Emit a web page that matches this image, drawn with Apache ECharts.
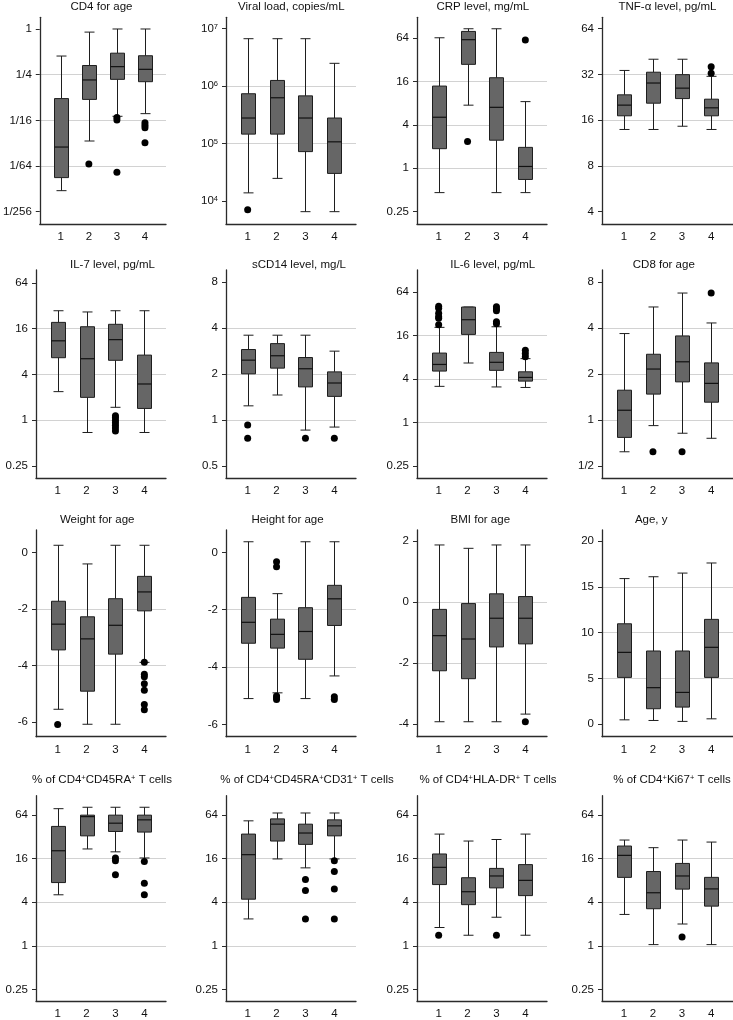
<!DOCTYPE html>
<html>
<head>
<meta charset="utf-8">
<script src="https://cdn.jsdelivr.net/npm/echarts@6/dist/echarts.min.js"></script>
<style>
html,body{margin:0;padding:0;background:#fff;}
#chart{width:733px;height:1020px;}
</style>
</head>
<body>
<div id="chart"></div>
<script>
// ---------- DATA ----------
const categories = ['1', '2', '3', '4'];
// each box: [min whisker, Q1, median, Q3, max whisker]
const cd4Stats = [[0.0074, 0.011, 0.0278, 0.121, 0.44], [0.0334, 0.118, 0.213, 0.33, 0.91], [0.0707, 0.217, 0.319, 0.48, 1.0], [0.0766, 0.202, 0.294, 0.444, 1.0]];
const cd4Outliers = [[2, 0.0166], [3, 0.068], [3, 0.063], [3, 0.0129], [4, 0.058], [4, 0.054], [4, 0.05], [4, 0.0317]];
const viralStats = [[1.4e4, 1.47e5, 2.8e5, 7.4e5, 6.7e6], [2.5e4, 1.47e5, 6.3e5, 1.26e6, 6.7e6], [6.6e3, 7.3e4, 2.8e5, 6.8e5, 6.7e6], [6.6e3, 3.05e4, 1.08e5, 2.8e5, 2.5e6]];
const viralOutliers = [[1, 7.1e3]];
const crpStats = [[0.46, 1.87, 5.1, 13.8, 64.5], [7.5, 27.6, 60.7, 79, 86], [0.46, 2.45, 7.0, 18, 86], [0.46, 0.70, 1.06, 1.95, 8.4]];
const crpOutliers = [[2, 2.36], [4, 60]];
const tnfStats = [[13.9, 17.1, 20.1, 23.5, 34], [13.9, 20.7, 28.1, 33.1, 40.3], [14.6, 22.2, 26.0, 31.9, 40.3], [13.9, 17.1, 19.3, 22.0, 31.1]];
const tnfOutliers = [[4, 36], [4, 32.6]];
const il7Stats = [[2.38, 6.65, 11.1, 19.4, 27.6], [0.69, 2.0, 6.45, 17.0, 26.6], [1.48, 6.15, 11.5, 18.3, 27.6], [0.69, 1.43, 3.0, 7.2, 27.6]];
const il7Outliers = [[3, 1.15], [3, 1.08], [3, 1.0], [3, 0.93], [3, 0.86], [3, 0.79], [3, 0.72]];
const scd14Stats = [[1.24, 2.01, 2.47, 2.9, 3.6], [1.46, 2.19, 2.64, 3.17, 3.6], [0.86, 1.65, 2.17, 2.57, 3.6], [0.90, 1.43, 1.75, 2.07, 2.83]];
const scd14Outliers = [[1, 0.93], [1, 0.76], [3, 0.76], [4, 0.76]];
const il6Stats = [[3.18, 5.18, 6.4, 9.2, 20.9], [6.7, 16.7, 26.7, 40, 40], [3.12, 5.3, 6.85, 9.4, 21.3], [3.07, 3.76, 4.23, 5.06, 7.7]];
const il6Outliers = [[1, 40.9], [1, 38.4], [1, 32.7], [1, 29.4], [1, 27.9], [1, 22.8], [3, 40.5], [3, 37.5], [3, 35.5], [3, 25.1], [3, 23.5], [4, 10.1], [4, 9.1], [4, 8.2]];
const cd8Stats = [[0.62, 0.77, 1.16, 1.57, 3.69], [0.92, 1.48, 2.16, 2.70, 5.51], [0.82, 1.78, 2.41, 3.56, 6.8], [0.76, 1.31, 1.74, 2.37, 4.33]];
const cd8Outliers = [[2, 0.62], [3, 0.62], [4, 6.8]];
const weightStats = [[-5.55, -3.45, -2.54, -1.73, 0.25], [-6.08, -4.91, -3.06, -2.28, -0.41], [-6.08, -3.6, -2.58, -1.64, 0.25], [-3.89, -2.07, -1.40, -0.85, 0.25]];
const weightOutliers = [[1, -6.09], [4, -3.89], [4, -4.31], [4, -4.4], [4, -4.65], [4, -4.88], [4, -5.38], [4, -5.57]];
const heightStats = [[-5.1, -3.17, -2.44, -1.57, 0.37], [-4.9, -3.34, -2.86, -2.33, -1.44], [-5.1, -3.73, -2.76, -1.93, 0.37], [-4.31, -2.55, -1.62, -1.15, 0.37]];
const heightOutliers = [[2, -0.33], [2, -0.5], [2, -5.01], [2, -5.07], [2, -5.13], [4, -5.04], [4, -5.13]];
const bmiStats = [[-3.92, -2.25, -1.1, -0.24, 1.87], [-3.92, -2.51, -1.21, -0.05, 1.76], [-3.92, -1.47, -0.53, 0.27, 1.87], [-3.67, -1.37, -0.53, 0.18, 1.87]];
const bmiOutliers = [[4, -3.92]];
const ageStats = [[0.49, 5.12, 7.85, 10.97, 15.9], [0.42, 1.7, 4.0, 8.0, 16.1], [0.32, 1.88, 3.48, 8.0, 16.5], [0.6, 5.12, 8.4, 11.45, 17.6]];
const ageOutliers = [];
const ra45Stats = [[5.06, 7.46, 20.5, 44.4, 78], [21.7, 32.9, 60.6, 63.5, 81.6], [19.8, 37.8, 49.2, 63.5, 81.6], [16.3, 37.1, 54.7, 63.5, 81.6]];
const ra45Outliers = [[3, 16.3], [3, 14.9], [3, 9.6], [4, 14.6], [4, 7.3], [4, 5.06]];
const cd31Stats = [[2.35, 4.4, 18.1, 34.8, 53], [15.8, 27.9, 47.7, 56.4, 68], [11.9, 25.1, 36, 47.7, 68], [15.8, 32.9, 45.2, 54.7, 68]];
const cd31Outliers = [[3, 8.2], [3, 5.8], [3, 2.35], [4, 14.9], [4, 10.6], [4, 6.06], [4, 2.35]];
const hladrStats = [[1.79, 7.0, 12.1, 18.5, 34.8], [1.40, 3.7, 5.58, 8.7, 27.9], [2.48, 6.3, 9.2, 11.7, 29.3], [1.40, 4.93, 8.0, 13.2, 34.8]];
const hladrOutliers = [[1, 1.40], [3, 1.40]];
const ki67Stats = [[2.71, 8.8, 17.7, 23.8, 28.8], [1.04, 3.25, 5.4, 10.6, 22.6], [2.0, 6.06, 9.2, 13.7, 28.8], [1.04, 3.53, 6.1, 8.8, 27]];
const ki67Outliers = [[3, 1.32]];

// tick values and labels
const fracTicks4 = [1 / 256, 1 / 64, 1 / 16, 1 / 4, 1];
const fracLabels4 = ['1/256', '1/64', '1/16', '1/4', '1'];
const decTicks = [1e4, 1e5, 1e6, 1e7];
const decExponents = ['4', '5', '6', '7'];
const quadTicks = [0.25, 1, 4, 16, 64];
const quadLabels = ['0.25', '1', '4', '16', '64'];
const tnfTicks = [4, 8, 16, 32, 64];
const tnfLabels = ['4', '8', '16', '32', '64'];
const scd14Ticks = [0.5, 1, 2, 4, 8];
const scd14Labels = ['0.5', '1', '2', '4', '8'];
const cd8Ticks = [0.5, 1, 2, 4, 8];
const cd8Labels = ['1/2', '1', '2', '4', '8'];
const zTicks = [-6, -4, -2, 0];
const zLabels = ['-6', '-4', '-2', '0'];
const bmiTicks = [-4, -2, 0, 2];
const bmiLabels = ['-4', '-2', '0', '2'];
const ageTicks = [0, 5, 10, 15, 20];
const ageLabels = ['0', '5', '10', '15', '20'];

// ---------- PANELS ----------
const panels = [
  {title: 'CD4 for age', stats: cd4Stats, out: cd4Outliers, ticks: fracTicks4, labels: fracLabels4, base: 4, lo: -4.269, hi: 0.256},
  {title: 'Viral load, copies/mL', stats: viralStats, out: viralOutliers, ticks: decTicks, labels: decExponents, base: 10, lo: 3.605, hi: 7.198, sup: true},
  {title: 'CRP level, mg/mL', stats: crpStats, out: crpOutliers, ticks: quadTicks, labels: quadLabels, base: 4, lo: -1.283, hi: 3.477},
  {title: 'TNF-α level, pg/mL', stats: tnfStats, out: tnfOutliers, ticks: tnfTicks, labels: tnfLabels, base: 2, lo: 1.731, hi: 6.249},
  {title: 'IL-7 level, pg/mL', stats: il7Stats, out: il7Outliers, ticks: quadTicks, labels: quadLabels, base: 4, lo: -1.269, hi: 3.284},
  {title: 'sCD14 level, mg/L', stats: scd14Stats, out: scd14Outliers, ticks: scd14Ticks, labels: scd14Labels, base: 2, lo: -1.267, hi: 3.267},
  {title: 'IL-6 level, pg/mL', stats: il6Stats, out: il6Outliers, ticks: quadTicks, labels: quadLabels, base: 4, lo: -1.283, hi: 3.514},
  {title: 'CD8 for age', stats: cd8Stats, out: cd8Outliers, ticks: cd8Ticks, labels: cd8Labels, base: 2, lo: -1.267, hi: 3.267},
  {title: 'Weight for age', stats: weightStats, out: weightOutliers, ticks: zTicks, labels: zLabels, lo: -6.52, hi: 0.79},
  {title: 'Height for age', stats: heightStats, out: heightOutliers, ticks: zTicks, labels: zLabels, lo: -6.43, hi: 0.78},
  {title: 'BMI for age', stats: bmiStats, out: bmiOutliers, ticks: bmiTicks, labels: bmiLabels, lo: -4.41, hi: 2.36},
  {title: 'Age, y', stats: ageStats, out: ageOutliers, ticks: ageTicks, labels: ageLabels, lo: -1.35, hi: 21.2},
  {title: '% of CD4{s|+}CD45RA{s|+} T cells', stats: ra45Stats, out: ra45Outliers, ticks: quadTicks, labels: quadLabels, base: 4, lo: -1.264, hi: 3.44},
  {title: '% of CD4{s|+}CD45RA{s|+}CD31{s|+} T cells', stats: cd31Stats, out: cd31Outliers, ticks: quadTicks, labels: quadLabels, base: 4, lo: -1.264, hi: 3.44},
  {title: '% of CD4{s|+}HLA-DR{s|+} T cells', stats: hladrStats, out: hladrOutliers, ticks: quadTicks, labels: quadLabels, base: 4, lo: -1.264, hi: 3.44},
  {title: '% of CD4{s|+}Ki67{s|+} T cells', stats: ki67Stats, out: ki67Outliers, ticks: quadTicks, labels: quadLabels, base: 4, lo: -1.264, hi: 3.44}
];

// ---------- LAYOUT ----------
const colLeft = [36, 226, 417, 602];
const colWidth = [130, 130, 130, 131];
const rowTop = [17.3, 270, 530, 795.7];
const rowBottom = [224, 478.3, 736.7, 1002.3];
const titleCenterX = [
  [101.5, 291.3, 482.8, 667.5],
  [112.5, 299, 492.7, 663.8],
  [97.2, 287.5, 480.3, 651.2],
  [102, 307, 488, 672]
];
const titleMidY = [7.5, 265.5, 520.5, 781];

const FONT = '"Liberation Sans", Arial, Helvetica, sans-serif';
const TEXT = '#111111';
const AXIS = '#2b2b2b';
const GRIDC = '#d2d2d2';
const BOXFILL = '#666666';
const BOXLINE = '#1e1e1e';

const grids = [], xAxes = [], yAxes = [], series = [], titles = [];

panels.forEach((p, i) => {
  const r = Math.floor(i / 4), c = i % 4;
  grids.push({left: colLeft[c], width: colWidth[c], top: rowTop[r], height: rowBottom[r] - rowTop[r], containLabel: false});
  titles.push({
    text: p.title, left: titleCenterX[r][c], top: titleMidY[r] - 7, textAlign: 'center', padding: 0,
    textStyle: {fontSize: 11.5, fontWeight: 'normal', color: TEXT, fontFamily: FONT,
      rich: {s: {fontSize: 7.5, verticalAlign: 'top', color: TEXT, fontFamily: FONT, lineHeight: 9}}}
  });
  xAxes.push({
    type: 'value', gridIndex: i, min: 0.25, max: 4.75,
    axisLine: {show: true, onZero: false, lineStyle: {color: AXIS, width: 1.3}},
    axisTick: {show: false},
    splitLine: {show: false},
    axisLabel: {customValues: [1, 2, 3, 4], formatter: v => categories[Math.round(v) - 1], fontSize: 11.5, color: TEXT, fontFamily: FONT, margin: 7}
  });
  const findLabel = v => {
    let best = 0, bd = Infinity;
    p.ticks.forEach((t, k) => {
      const d = p.base ? Math.abs(Math.log(t) - Math.log(v)) : Math.abs(t - v);
      if (d < bd) { bd = d; best = k; }
    });
    return p.sup ? '10{s|' + p.labels[best] + '}' : p.labels[best];
  };
  const y = {
    gridIndex: i,
    axisLine: {show: true, onZero: false, lineStyle: {color: AXIS, width: 1.3}},
    axisTick: {show: true, length: 4, customValues: p.ticks, lineStyle: {color: AXIS, width: 1}},
    axisLabel: {customValues: p.ticks, formatter: findLabel, fontSize: 11.5, color: TEXT, fontFamily: FONT, margin: 8,
      rich: {s: {fontSize: 7.5, verticalAlign: 'top', color: TEXT, fontFamily: FONT, lineHeight: 9}}},
    splitLine: {show: true, showMinLine: false, showMaxLine: false, lineStyle: {color: GRIDC, width: 1}}
  };
  if (p.base) {
    y.type = 'log'; y.logBase = p.base;
    y.min = Math.pow(p.base, p.lo); y.max = Math.pow(p.base, p.hi);
  } else {
    y.type = 'value'; y.min = p.lo; y.max = p.hi; y.splitNumber = 4;
  }
  yAxes.push(y);

  series.push({
    type: 'custom', xAxisIndex: i, yAxisIndex: i,
    data: p.stats.map((s, j) => [j + 1].concat(s)),
    encode: {x: 0, y: [1, 2, 3, 4, 5]},
    renderItem: (params, api) => {
      const x = api.value(0);
      const pMin = api.coord([x, api.value(1)]);
      const pQ1 = api.coord([x, api.value(2)]);
      const pMed = api.coord([x, api.value(3)]);
      const pQ3 = api.coord([x, api.value(4)]);
      const pMax = api.coord([x, api.value(5)]);
      const cx = Math.round(pMin[0]) + 0.5;
      const bw = 14, cw = 10;
      const ls = {stroke: BOXLINE, lineWidth: 1};
      return {
        type: 'group', children: [
          {type: 'line', shape: {x1: cx, y1: pMax[1], x2: cx, y2: pQ3[1]}, style: ls},
          {type: 'line', shape: {x1: cx, y1: pQ1[1], x2: cx, y2: pMin[1]}, style: ls},
          {type: 'line', shape: {x1: cx - cw / 2, y1: pMax[1], x2: cx + cw / 2, y2: pMax[1]}, style: ls},
          {type: 'line', shape: {x1: cx - cw / 2, y1: pMin[1], x2: cx + cw / 2, y2: pMin[1]}, style: ls},
          {type: 'rect', shape: {x: cx - bw / 2, y: pQ3[1], width: bw, height: pQ1[1] - pQ3[1]}, style: {fill: BOXFILL, stroke: BOXLINE, lineWidth: 1}},
          {type: 'line', shape: {x1: cx - bw / 2, y1: pMed[1], x2: cx + bw / 2, y2: pMed[1]}, style: {stroke: '#111', lineWidth: 1.2}}
        ]
      };
    },
    z: 2, silent: true
  });
  series.push({
    type: 'scatter', xAxisIndex: i, yAxisIndex: i,
    data: p.out, symbol: 'circle', symbolSize: 7,
    itemStyle: {color: '#000', opacity: 1}, z: 3, silent: true
  });
});

const chart = echarts.init(document.getElementById('chart'), null, {renderer: 'canvas'});
chart.setOption({
  animation: false,
  backgroundColor: '#ffffff',
  title: titles,
  grid: grids,
  xAxis: xAxes,
  yAxis: yAxes,
  series: series
});
</script>
</body>
</html>
